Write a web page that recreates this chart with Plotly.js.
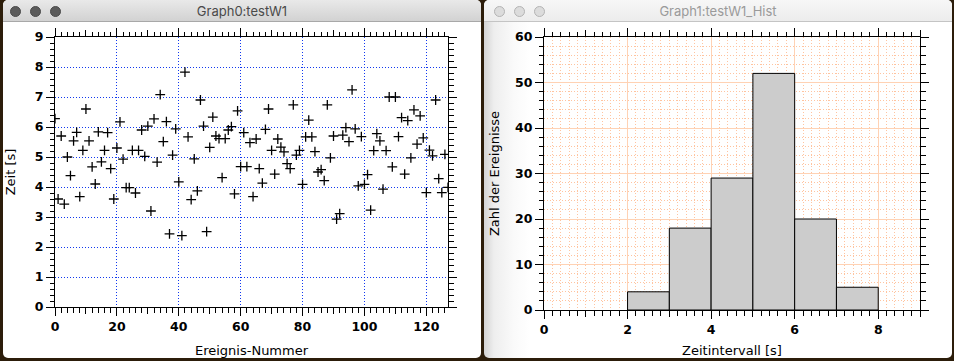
<!DOCTYPE html>
<html><head><meta charset="utf-8">
<script src="https://cdn.plot.ly/plotly-3.0.1.min.js"></script>
<style>
html,body{margin:0;padding:0;width:954px;height:361px;overflow:hidden;background:#2c1d0a;}
.win{position:absolute;top:0;height:358px;background:#fff;border-radius:5px 5px 5px 5px;overflow:hidden;}
#w0{left:3px;width:478px;}
#w1{left:484px;width:468px;background:linear-gradient(to right,#d4d4d4 0px,#eeeeee 10px,#fafafa 30px,#ffffff 46px);}
.tb{position:absolute;left:0;top:0;right:0;height:21px;border-bottom:1px solid #a8a8a8;font-family:Inter,'Noto Sans',sans-serif;font-size:13px;text-align:center;line-height:22px;}
#w0 .tb{background:linear-gradient(#e9e9e9,#d2d2d2);color:#4a4a4a;}
#w1 .tb{background:linear-gradient(#f7f7f7,#ececec);color:#9a9a9a;border-bottom-color:#c4c4c4;}
.dot{position:absolute;top:6px;width:11px;height:11px;border-radius:50%;box-sizing:border-box;}
#w0 .dot{background:#5b5b5b;border:1px solid #4a4a4a;}
#w1 .dot{background:#dcdcdc;border:1px solid #b4b4b4;}
.plot{position:absolute;left:0;top:22px;}
</style></head>
<body>
<div class="win" id="w0">
  <div class="tb">Graph0:testW1</div>
  <div class="dot" style="left:7px"></div><div class="dot" style="left:27px"></div><div class="dot" style="left:47px"></div>
  <div class="plot" id="p0"></div>
</div>
<div class="win" id="w1">
  <div class="tb">Graph1:testW1_Hist</div>
  <div class="dot" style="left:10px"></div><div class="dot" style="left:30px"></div><div class="dot" style="left:50px"></div>
  <div class="plot" id="p1"></div>
</div>
<script>
// Zeit [s] per Ereignis-Nummer (point index 0..127)
const zeit = [
 6.28,3.60,5.70,3.43,5.00,4.38,5.54,5.82,3.68,5.22,
 6.60,5.54,4.67,4.10,5.84,4.84,5.22,5.81,4.61,3.60,
 5.30,6.17,4.93,3.98,3.98,5.22,3.80,5.22,5.90,5.02,
 6.03,3.20,6.27,4.83,7.08,5.51,6.18,2.44,5.06,5.94,
 4.17,2.38,7.83,5.67,3.58,4.94,3.87,6.90,6.03,2.51,
 5.32,6.33,5.70,5.61,4.31,5.61,5.90,6.01,3.77,6.54,
 4.68,5.81,4.68,5.48,3.68,5.60,4.61,4.13,5.92,6.60,
 5.22,4.43,5.60,5.33,5.17,4.78,4.61,6.74,5.06,5.22,
 4.09,5.67,6.23,5.67,5.18,4.50,4.58,4.21,6.74,4.97,
 5.70,2.93,3.11,5.73,5.98,5.51,7.24,5.94,4.04,5.68,
 4.09,4.41,3.23,5.21,5.78,5.54,3.93,5.21,7.00,4.67,
 7.00,5.68,6.31,4.43,6.21,4.97,6.57,5.43,6.37,5.64,
 3.81,5.23,5.04,6.90,4.28,3.81,5.09,3.99
];
// Histogram: bin start [s] and count
const binStart = [2,3,4,5,6,7];
const counts   = [4,18,29,52,20,5];

const tickFont = {family:'DejaVu Sans', size:12.5, weight:'bold', color:'#000'};
const titleFont = {family:'DejaVu Sans', size:13, color:'#000'};
const blue = '#1038f0';
const dotted = '1px,2px';

function baseAxis(extra){
  return Object.assign({
    showline:true, linecolor:'#000', linewidth:1, mirror:'ticks',
    ticks:'outside', ticklen:8, tickwidth:1, tickcolor:'#000',
    zeroline:false, tickfont:tickFont, automargin:false, fixedrange:true
  }, extra);
}
function mediumAxis(extra){
  return Object.assign({
    showline:false, mirror:'ticks', ticks:'outside', ticklen:6, tickwidth:1, tickcolor:'#000',
    showticklabels:false, showgrid:false, zeroline:false, automargin:false, fixedrange:true
  }, extra);
}

// ---- Graph0 ----
const t0 = [
  {type:'scatter', mode:'markers', y:zeit,
   marker:{symbol:'cross-thin-open', size:7, color:'#000', line:{width:1.3, color:'#000'}},
   hoverinfo:'skip'},
  {type:'scatter', x:[], y:[], xaxis:'x2', yaxis:'y', hoverinfo:'skip', showlegend:false}
];
const l0 = {
  width:478, height:336, margin:{l:52, r:33, t:15, b:51},
  paper_bgcolor:'rgba(0,0,0,0)', plot_bgcolor:'#fff', showlegend:false,
  xaxis: baseAxis({range:[0,127], tick0:0, dtick:20,
    showgrid:true, gridcolor:blue, griddash:dotted, gridwidth:1,
    minor:{tick0:0, dtick:2, ticks:'outside', ticklen:4.5, tickwidth:1, tickcolor:'#000', showgrid:false},
    title:{text:'Ereignis-Nummer', font:titleFont, standoff:12}}),
  xaxis2: mediumAxis({overlaying:'x', anchor:'y', side:'bottom', range:[0,127], tick0:10, dtick:20}),
  yaxis: baseAxis({range:[0,9], tick0:0, dtick:1,
    showgrid:true, gridcolor:blue, griddash:dotted, gridwidth:1,
    minor:{tick0:0, dtick:0.2, ticks:'outside', ticklen:4.5, tickwidth:1, tickcolor:'#000', showgrid:false},
    title:{text:'Zeit [s]', font:titleFont, standoff:18}})
};

// ---- Graph1 ----
const orange = '#ffd2b4';
const orangeDot = '#ffc4a0';
const t1 = [
  {type:'bar', x:binStart, y:counts, width:1, offset:0,
   marker:{color:'#cccccc', line:{color:'#000', width:1}}, hoverinfo:'skip'},
  {type:'scatter', x:[], y:[], xaxis:'x2', yaxis:'y', hoverinfo:'skip', showlegend:false}
];
const l1 = {
  width:468, height:336, margin:{l:60, r:32, t:15, b:48},
  paper_bgcolor:'rgba(0,0,0,0)', plot_bgcolor:'#fff', showlegend:false, bargap:0,
  xaxis: baseAxis({range:[0,9], tick0:0, dtick:2,
    showgrid:true, gridcolor:orange, gridwidth:1,
    minor:{tick0:0, dtick:0.2, ticks:'outside', ticklen:4.5, tickwidth:1, tickcolor:'#000',
           showgrid:true, gridcolor:orangeDot, griddash:dotted, gridwidth:1},
    title:{text:'Zeitintervall [s]', font:titleFont, standoff:10}}),
  xaxis2: mediumAxis({overlaying:'x', anchor:'y', side:'bottom', range:[0,9], tick0:1, dtick:2}),
  yaxis: baseAxis({range:[0,60], tick0:0, dtick:10,
    showgrid:true, gridcolor:orange, gridwidth:1,
    minor:{tick0:0, dtick:2, ticks:'outside', ticklen:4.5, tickwidth:1, tickcolor:'#000',
           showgrid:true, gridcolor:orangeDot, griddash:dotted, gridwidth:1},
    title:{text:'Zahl der Ereignisse', font:titleFont, standoff:12}})
};

const cfg = {staticPlot:true, displayModeBar:false};
Plotly.newPlot('p0', t0, l0, cfg);
Plotly.newPlot('p1', t1, l1, cfg);
</script>
</body></html>
